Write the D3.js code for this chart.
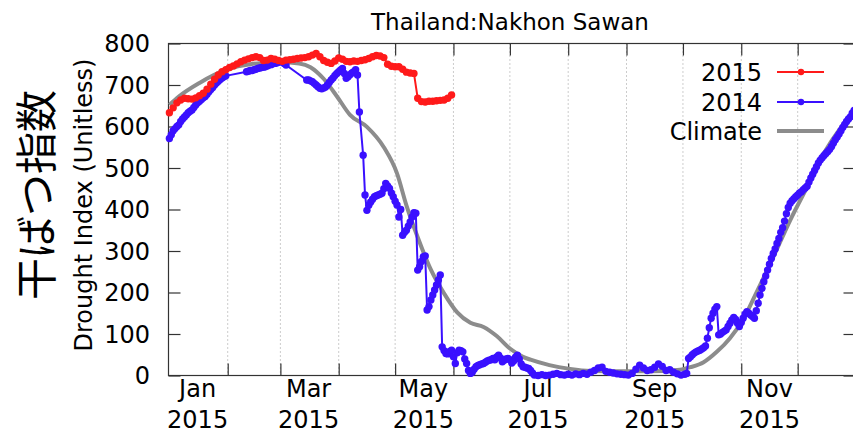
<!DOCTYPE html>
<html>
<head>
<meta charset="utf-8">
<script src="https://cdn.jsdelivr.net/npm/d3@7"></script>
<style>
  html, body { margin: 0; padding: 0; background: #fff; }
  svg { display: block; }
  text { font-family: "DejaVu Sans", sans-serif; fill: #000; }
</style>
</head>
<body>
<svg id="chart" width="853" height="433"></svg>
<script>
// ---------- DATA ----------
const title = "Thailand:Nakhon Sawan";
const yLabel = "Drought Index (Unitless)";
const yLabelJa = "干ばつ指数";
const yTicks = [0, 100, 200, 300, 400, 500, 600, 700, 800];
const monthLabels = ["Jan", "Mar", "May", "Jul", "Sep", "Nov"];
const monthLabelIdx = [0, 2, 4, 6, 8, 10];
const yearLabel = "2015";
const seriesNames = ["2015", "2014", "Climate"];

// day of year (0 = Jan 1) and value
const climateDays = [0, 5, 16, 31, 43, 59, 69, 75, 82, 89, 96, 105, 114, 121, 126, 132, 139, 146, 153, 160, 167, 174, 181, 188, 192, 202, 213, 224, 238, 256, 270, 277, 284, 291, 298, 305, 312, 321, 330, 339, 348, 357, 365];
const climateVals = [652, 672, 705, 738, 750, 755, 752, 743, 715, 673, 628, 599, 550, 487, 410, 333, 255, 198, 152, 127, 117, 95, 65, 45, 38, 25, 16, 11, 10, 10, 13, 20, 32, 57, 90, 135, 199, 285, 374, 454, 536, 598, 640];

const red2015Days = [0,2,4,6,8,10,12,14,16,18,20,22,24,26,28,30,32,34,36,38,40,42,44,46,48,50,52,54,56,58,60,62,64,66,68,70,72,74,76,78,80,82,84,86,88,90,92,94,96,98,100,102,104,106,108,110,112,114,116,118,120,122,124,126,128,130,132,134,136,138,140,142,144,146,148,150];
const red2015Vals = [633,645,657,664,668,667,666,669,674,680,690,702,714,724,732,737,742,746,751,756,760,763,766,768,766,759,760,764,762,759,757,760,761,762,764,765,766,768,772,776,768,759,755,752,758,765,762,757,756,758,757,759,761,764,768,771,770,766,750,745,744,744,738,731,729,728,668,660,659,661,661,662,663,664,668,676];

const blue2014Days = [0,1,2,3,4,5,6,7,8,9,10,11,12,13,14,15,16,17,18,19,20,21,22,23,24,25,26,27,28,29,30,
  41,42,43,44,45,46,47,48,49,50,51,52,53,54,55,56,57,58,59,60,61,62,
  73,74,75,76,77,78,79,80,81,82,83,84,85,86,87,88,89,90,91,92,93,94,95,96,97,98,99,100,101,103,104,105,106,107,108,109,110,111,112,113,114,115,116,117,118,119,120,121,122,123,124,125,126,127,128,129,130,131,132,133,134,135,136,137,138,139,140,141,142,143,144,145,146,147,148,149,150,151,152,153,154,155,156,157,158,159,160,161,162,163,164,165,166,167,168,169,170,171,172,173,174,175,176,177,178,179,180,181,182,183,184,185,186,187,188,189,190,191,192,193,194,196,198,200,202,204,206,208,210,212,214,216,218,220,222,224,226,228,230,232,234,236,238,240,242,244,246,248,250,252,254,256,258,260,262,264,266,268,270,272,274,275,276,277,278,279,280,281,282,283,284,285,286,287,288,289,290,291,292,293,294,295,296,297,298,299,300,301,302,303,304,305,306,307,308,309,310,311,312,313,314,315,316,317,318,319,320,321,322,323,324,325,326,327,328,329,330,331,332,333,334,335,336,337,338,339,340,341,342,343,344,345,346,347,348,349,350,351,352,353,354,355,356,357,358,359,360,361,362,363,364];
const blue2014Vals = [571,580,590,595,600,604,612,618,623,628,633,637,640,646,652,657,661,665,669,672,678,684,689,694,700,705,709,713,717,720,722,
  732,733,735,735,737,738,740,741,742,743,744,746,748,749,751,752,753,755,756,756,752,748,
  712,712,710,708,704,700,696,692,691,693,695,700,706,712,717,723,728,732,736,740,728,716,720,725,729,732,737,724,635,531,435,398,410,418,425,431,433,435,437,439,450,463,457,451,440,431,420,411,382,400,338,345,350,360,370,382,392,391,254,262,275,286,288,158,166,182,194,206,218,230,242,69,60,53,52,58,61,45,29,55,61,60,57,40,29,12,5,8,15,21,24,26,28,29,32,35,37,38,41,38,45,49,42,33,37,40,41,38,30,35,44,49,40,28,21,20,18,17,12,6,1,0,2,0,1,3,5,2,1,3,1,4,2,5,3,8,12,18,20,10,8,6,4,3,2,1,5,15,25,18,12,14,20,28,22,12,14,8,4,1,3,5,41,45,50,54,57,59,61,64,67,71,90,115,138,150,160,166,98,100,104,107,110,118,126,134,140,135,126,118,128,138,148,154,150,146,142,138,156,174,194,210,226,240,254,268,282,294,305,318,330,345,356,372,390,405,415,421,426,431,435,440,443,448,452,456,466,476,485,494,503,512,519,525,530,535,540,545,552,560,568,575,582,590,598,605,612,618,623,632,639];

// ---------- LAYOUT ----------
const svg = d3.select("#chart");
const pLeft = 168.5, pRight = 855.5, pTop = 43.5, pBottom = 375.5;
const t0 = new Date(2015, 0, 1), t1 = new Date(2016, 0, 1);
const x = d3.scaleTime().domain([t0, t1]).range([169.4, 856]);
const y = d3.scaleLinear().domain([0, 800]).range([pBottom, pTop]);
const dayDate = d => d3.timeDay.offset(t0, d);

const colors = { red: "#ff1a1a", blue: "#3a10ff", gray: "#8c8c8c", axis: "#333" };

// gridlines (dotted) at month starts
const monthStarts = d3.timeMonth.range(new Date(2015, 1, 1), t1);
svg.append("g").selectAll("line").data(monthStarts).join("line")
  .attr("x1", d => x(d)).attr("x2", d => x(d))
  .attr("y1", pTop).attr("y2", pBottom)
  .attr("stroke", "#999").attr("stroke-width", 1).attr("stroke-dasharray", "1,3");

// axes (ticks inward on all four sides)
const xb = svg.append("g").attr("transform", `translate(0,${pBottom})`)
  .call(d3.axisBottom(x).tickValues(monthStarts).tickSize(-12).tickFormat(""));
const xt = svg.append("g").attr("transform", `translate(0,${pTop})`)
  .call(d3.axisTop(x).tickValues(monthStarts).tickSize(-12).tickFormat(""));
const yl = svg.append("g").attr("transform", `translate(${pLeft},0)`)
  .call(d3.axisLeft(y).tickValues(yTicks).tickSize(-12).tickFormat(""));
const yr = svg.append("g").attr("transform", `translate(${pRight},0)`)
  .call(d3.axisRight(y).tickValues(yTicks).tickSize(-12).tickFormat(""));
[xb, xt, yl, yr].forEach(g => {
  g.select(".domain").remove();
  g.selectAll(".tick line").attr("stroke", colors.axis).attr("stroke-width", 1.2);
});
svg.append("rect").attr("x", pLeft).attr("y", pTop)
  .attr("width", pRight - pLeft).attr("height", pBottom - pTop)
  .attr("fill", "none").attr("stroke", colors.axis).attr("stroke-width", 1.2);

// y tick labels
svg.append("g").selectAll("text").data(yTicks).join("text")
  .attr("x", 150).attr("y", d => y(d)).attr("dy", "0.36em")
  .attr("text-anchor", "end").style("font-size", "24px").text(d => d);

// x labels at mid-month
const lab = svg.append("g").selectAll("g").data(monthLabels).join("g")
  .attr("transform", (d, i) => `translate(${x(new Date(2015, monthLabelIdx[i], 16))},0)`);
lab.append("text").attr("y", 397).attr("text-anchor", "middle").style("font-size", "24px").text(d => d);
lab.append("text").attr("y", 428).attr("text-anchor", "middle").style("font-size", "24px").text(yearLabel);

// title
svg.append("text").attr("x", 510).attr("y", 30).attr("text-anchor", "middle")
  .style("font-size", "23px").text(title);

// axis labels
svg.append("text").attr("transform", "translate(92,205) rotate(-90)")
  .attr("text-anchor", "middle").style("font-size", "24px").text(yLabel);
svg.append("text").attr("transform", "translate(52,195) rotate(-90)")
  .attr("text-anchor", "middle")
  .style("font-family", "'Noto Sans CJK JP', sans-serif").style("font-size", "42px")
  .text(yLabelJa);

// ---------- SERIES ----------
const line = d3.line().x(d => x(dayDate(d[0]))).y(d => y(d[1]));
const plot = svg.append("g");
const climate = climateDays.map((d, i) => [d, climateVals[i]]);
const blue = blue2014Days.map((d, i) => [d, blue2014Vals[i]]);
const red = red2015Days.map((d, i) => [d, red2015Vals[i]]);

plot.append("path").datum(climate)
  .attr("d", d3.line().curve(d3.curveMonotoneX).x(d => x(dayDate(d[0]))).y(d => y(d[1])))
  .attr("fill", "none").attr("stroke", colors.gray).attr("stroke-width", 4);

function drawSeries(data, color) {
  const g = plot.append("g");
  g.append("path").datum(data).attr("d", line)
    .attr("fill", "none").attr("stroke", color).attr("stroke-width", 2);
  g.selectAll("circle").data(data).join("circle")
    .attr("cx", d => x(dayDate(d[0]))).attr("cy", d => y(d[1])).attr("r", 3.7)
    .attr("fill", color);
}
drawSeries(blue, colors.blue);
drawSeries(red, colors.red);

// ---------- LEGEND ----------
const legY = [72, 102, 131];
const legColors = [colors.red, colors.blue, colors.gray];
const leg = svg.append("g");
seriesNames.forEach((name, i) => {
  leg.append("text").attr("x", 762).attr("y", legY[i]).attr("dy", "0.36em")
    .attr("text-anchor", "end").style("font-size", "24px").text(name);
  leg.append("line").attr("x1", 777).attr("x2", 824).attr("y1", legY[i]).attr("y2", legY[i])
    .attr("stroke", legColors[i]).attr("stroke-width", i === 2 ? 4 : 2);
  if (i < 2) leg.append("circle").attr("cx", 801).attr("cy", legY[i]).attr("r", 3.2).attr("fill", legColors[i]);
});
</script>
</body>
</html>
